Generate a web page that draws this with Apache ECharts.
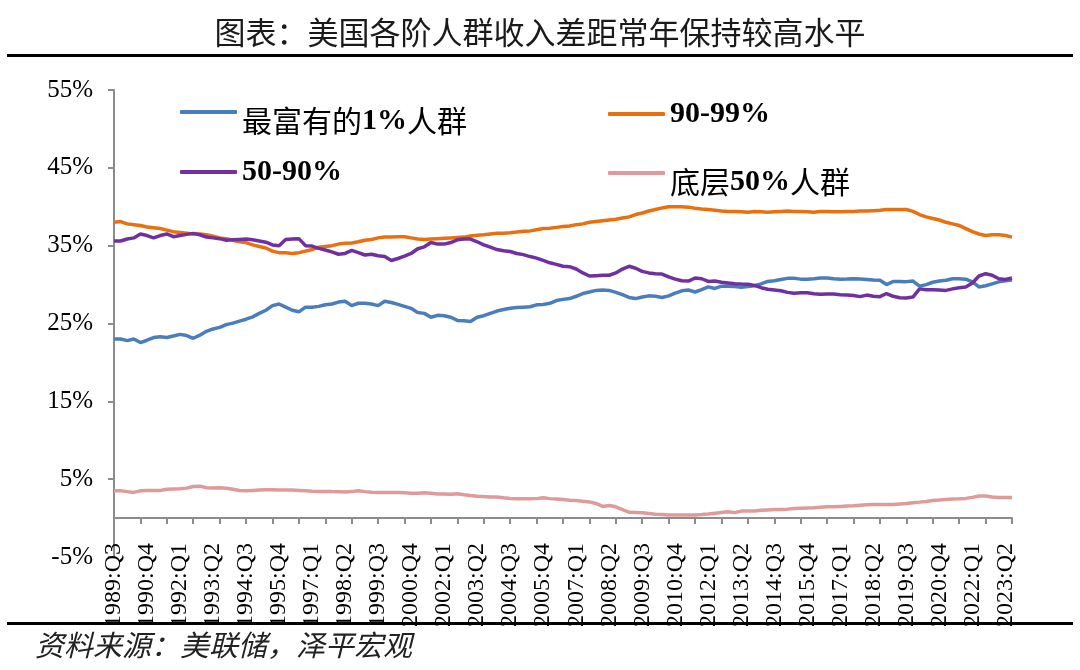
<!DOCTYPE html>
<html>
<head>
<meta charset="utf-8">
<title>美国各阶人群收入差距</title>
<script src="https://cdn.jsdelivr.net/npm/echarts@6/dist/echarts.min.js"></script>
<style>
  html, body { margin: 0; padding: 0; background: #fff; }
  #chart { width: 1080px; height: 670px; }
</style>
</head>
<body>
<div id="chart"></div>
<script>
// 季度标签 1989:Q3 - 2023:Q3
var startYear = 1989, startQuarter = 3, quarterCount = 137;
var quarters = [];
for (var k = 0; k < quarterCount; k++) {
    var q = startQuarter - 1 + k;
    quarters.push((startYear + Math.floor(q / 4)) + ':Q' + (q % 4 + 1));
}

var seriesNames = ['最富有的1%人群', '90-99%', '50-90%', '底层50%人群'];
var yTicks = [-5, 5, 15, 25, 35, 45, 55];

// 收入占比(%)
var top1 = [
    23.0, 23.0, 22.8, 23.0, 22.55, 22.85, 23.2, 23.3, 23.2, 23.4,
    23.6, 23.45, 23.1, 23.5, 24.0, 24.3, 24.5, 24.85, 25.05, 25.3,
    25.55, 25.85, 26.3, 26.7, 27.3, 27.5, 27.1, 26.7, 26.5, 27.1,
    27.1, 27.2, 27.4, 27.5, 27.75, 27.85, 27.3, 27.6, 27.6, 27.5,
    27.3, 27.85, 27.7, 27.45, 27.2, 26.95, 26.4, 26.3, 25.8, 26.05,
    26.0, 25.8, 25.4, 25.35, 25.25, 25.8, 26.0, 26.3, 26.6, 26.8,
    26.95, 27.05, 27.1, 27.15, 27.4, 27.45, 27.6, 27.95, 28.1, 28.2,
    28.5, 28.85, 29.05, 29.25, 29.3, 29.25, 29.0, 28.7, 28.35, 28.2,
    28.4, 28.55, 28.5, 28.35, 28.55, 28.9, 29.2, 29.3, 29.05, 29.35,
    29.7, 29.5, 29.8, 29.8, 29.75, 29.65, 29.75, 29.85, 30.1, 30.4,
    30.5, 30.65, 30.8, 30.8, 30.7, 30.7, 30.75, 30.85, 30.85, 30.75,
    30.7, 30.72, 30.75, 30.72, 30.66, 30.6, 30.55, 30.0, 30.4, 30.4,
    30.38, 30.45, 29.8, 30.0, 30.3, 30.45, 30.55, 30.75, 30.75, 30.7,
    30.35, 29.7, 29.85, 30.1, 30.35, 30.5, 30.6
];
var p90to99 = [
    38.0, 38.1, 37.8, 37.7, 37.6, 37.4, 37.3, 37.2, 37.0, 36.8,
    36.7, 36.6, 36.5, 36.5, 36.4, 36.2, 36.0, 35.9, 35.7, 35.5,
    35.4, 35.1, 34.9, 34.7, 34.3, 34.1, 34.1, 34.0, 34.1, 34.3,
    34.5, 34.8, 34.9, 35.0, 35.2, 35.3, 35.35, 35.5, 35.7, 35.8,
    36.0, 36.1, 36.1, 36.15, 36.15, 36.0, 35.85, 35.8, 35.85, 35.9,
    35.95, 36.0, 36.05, 36.1, 36.25, 36.35, 36.4, 36.5, 36.6, 36.6,
    36.65, 36.75, 36.85, 36.9, 37.05, 37.2, 37.25, 37.35, 37.45, 37.52,
    37.7, 37.8, 38.0, 38.1, 38.2, 38.3, 38.4, 38.55, 38.7, 39.0,
    39.2, 39.45, 39.65, 39.85, 40.0, 40.0, 40.0, 39.95, 39.8, 39.7,
    39.65, 39.55, 39.45, 39.4, 39.4, 39.35, 39.3, 39.4, 39.35, 39.3,
    39.35, 39.4, 39.45, 39.4, 39.4, 39.35, 39.3, 39.4, 39.4, 39.35,
    39.35, 39.4, 39.4, 39.45, 39.45, 39.5, 39.55, 39.65, 39.65, 39.65,
    39.65, 39.4, 39.0, 38.7, 38.5, 38.3, 38.0, 37.8, 37.6, 37.2,
    36.8, 36.5, 36.3, 36.4, 36.4, 36.3, 36.1
];
var p50to90 = [
    35.6, 35.6, 35.85, 36.0, 36.5, 36.3, 36.0, 36.3, 36.5, 36.15,
    36.3, 36.45, 36.58, 36.4, 36.1, 36.0, 35.9, 35.7, 35.75, 35.8,
    35.85, 35.75, 35.6, 35.45, 35.1, 35.0, 35.8, 35.85, 35.9, 35.0,
    34.95, 34.65, 34.45, 34.2, 33.9, 34.0, 34.4, 34.1, 33.8, 33.9,
    33.7, 33.6, 33.1, 33.35, 33.65, 34.0, 34.6, 34.85, 35.4, 35.2,
    35.2, 35.4, 35.75, 35.85, 35.85, 35.5, 35.1, 34.8, 34.5, 34.35,
    34.25, 34.0, 33.85, 33.6, 33.4, 33.1, 32.8, 32.6, 32.35, 32.3,
    32.0, 31.5, 31.1, 31.15, 31.2, 31.2, 31.5, 32.0, 32.35, 32.1,
    31.7, 31.5, 31.4, 31.35, 31.0, 30.7, 30.5, 30.45, 30.85, 30.75,
    30.4, 30.45, 30.3, 30.2, 30.1, 30.07, 30.05, 29.9, 29.6, 29.4,
    29.3, 29.2, 29.0, 28.9, 28.95, 28.95, 28.82, 28.75, 28.8, 28.8,
    28.7, 28.65, 28.6, 28.45, 28.65, 28.5, 28.45, 28.85, 28.5, 28.3,
    28.28, 28.4, 29.45, 29.35, 29.35, 29.3, 29.25, 29.45, 29.6, 29.7,
    30.2, 31.1, 31.4, 31.2, 30.75, 30.65, 30.85
];
var bottom50 = [
    3.5, 3.5, 3.4, 3.3, 3.5, 3.55, 3.55, 3.55, 3.7, 3.75,
    3.77, 3.85, 4.05, 4.1, 3.9, 3.85, 3.9, 3.82, 3.7, 3.55,
    3.5, 3.55, 3.6, 3.65, 3.65, 3.6, 3.6, 3.6, 3.55, 3.5,
    3.45, 3.43, 3.43, 3.4, 3.38, 3.35, 3.4, 3.5, 3.4, 3.32,
    3.3, 3.3, 3.3, 3.28, 3.26, 3.2, 3.2, 3.25, 3.18, 3.1,
    3.08, 3.05, 3.12, 3.0, 2.9, 2.82, 2.76, 2.72, 2.7, 2.6,
    2.53, 2.48, 2.48, 2.48, 2.5, 2.6, 2.5, 2.45, 2.38, 2.3,
    2.25, 2.15, 2.08, 1.88, 1.5, 1.62, 1.45, 1.1, 0.75, 0.72,
    0.68, 0.6, 0.5, 0.45, 0.4, 0.39, 0.39, 0.39, 0.4, 0.45,
    0.52, 0.62, 0.72, 0.8, 0.7, 0.9, 0.92, 0.9, 1.0, 1.05,
    1.1, 1.11, 1.15, 1.24, 1.27, 1.3, 1.33, 1.4, 1.45, 1.45,
    1.5, 1.54, 1.57, 1.65, 1.71, 1.75, 1.75, 1.75, 1.75, 1.82,
    1.88, 1.98, 2.05, 2.14, 2.25, 2.32, 2.4, 2.44, 2.48, 2.53,
    2.66, 2.83, 2.83, 2.7, 2.66, 2.66, 2.66
];

var colors = ['#4A7EBB', '#E8700E', '#7030A0', '#DF9A9A'];
var serifFont = '"Liberation Serif", "Times New Roman", serif';
var cjkFont = '"Noto Sans CJK SC", sans-serif';

// 图例文字: 数字用加粗衬线, 中文用黑体
function richName(name) {
    return name.split(/([\u4e00-\u9fa5]+)/).filter(function (s) { return s; }).map(function (s) {
        return /[\u4e00-\u9fa5]/.test(s) ? '{c|' + s + '}' : '{b|' + s + '}';
    }).join('');
}

function legendItem(name, left, top, shiftDown) {
    return {
        data: [name],
        left: left,
        top: top,
        padding: 0,
        itemWidth: 57,
        itemHeight: 4,
        icon: 'roundRect',
        selectedMode: false,
        formatter: richName,
        textStyle: {
            padding: shiftDown ? [18, 0, 0, 0] : 0,
            rich: {
                b: { fontFamily: serifFont, fontWeight: 'bold', fontSize: 30, color: '#000' },
                c: { fontFamily: cjkFont, fontSize: 30, color: '#000' }
            }
        }
    };
}

var seriesData = [top1, p90to99, p50to90, bottom50];

var option = {
    animation: false,
    backgroundColor: '#fff',
    title: {
        text: '图表：美国各阶人群收入差距常年保持较高水平',
        left: 'center',
        top: 12,
        textStyle: { fontFamily: cjkFont, fontSize: 31, fontWeight: 'normal', color: '#1a1a1a' }
    },
    legend: [
        legendItem(seriesNames[0], 180, 106, true),
        legendItem(seriesNames[1], 608, 99, false),
        legendItem(seriesNames[2], 180, 157, false),
        legendItem(seriesNames[3], 608, 167, true)
    ],
    grid: { left: 114, right: 68, top: 90, bottom: 113 },
    xAxis: {
        type: 'category',
        boundaryGap: false,
        data: quarters,
        // 横轴放在 0% 处
        offset: -39,
        axisLine: { onZero: false, lineStyle: { color: '#8c8c8c', width: 2 } },
        axisTick: { interval: 3, length: 6, lineStyle: { color: '#8c8c8c', width: 2 } },
        axisLabel: {
            interval: 4,
            rotate: 90,
            margin: 25,
            fontFamily: serifFont,
            fontSize: 24,
            color: '#000'
        },
        splitLine: { show: false }
    },
    yAxis: {
        type: 'value',
        min: yTicks[0],
        max: yTicks[yTicks.length - 1],
        interval: 10,
        axisLine: { show: true, lineStyle: { color: '#8c8c8c', width: 2 } },
        axisTick: { show: true, length: 6, lineStyle: { color: '#8c8c8c', width: 2 } },
        axisLabel: {
            formatter: '{value}%',
            margin: 21,
            fontFamily: serifFont,
            fontSize: 25,
            color: '#000'
        },
        splitLine: { show: false }
    },
    series: seriesNames.map(function (name, i) {
        return {
            name: name,
            type: 'line',
            data: seriesData[i],
            symbol: 'none',
            itemStyle: { color: colors[i] },
            lineStyle: { color: colors[i], width: 3.5 }
        };
    }),
    graphic: [
        { type: 'line', shape: { x1: 7, y1: 55.5, x2: 1073, y2: 55.5 }, style: { stroke: '#000', lineWidth: 3 } },
        { type: 'line', shape: { x1: 7, y1: 623.5, x2: 1073, y2: 623.5 }, style: { stroke: '#000', lineWidth: 3 } },
        {
            type: 'text',
            left: 35,
            top: 630,
            style: {
                text: '资料来源：美联储，泽平宏观',
                font: 'italic 29px "Noto Sans CJK SC"',
                fill: '#222'
            }
        }
    ]
};

echarts.init(document.getElementById('chart')).setOption(option);
</script>
</body>
</html>
